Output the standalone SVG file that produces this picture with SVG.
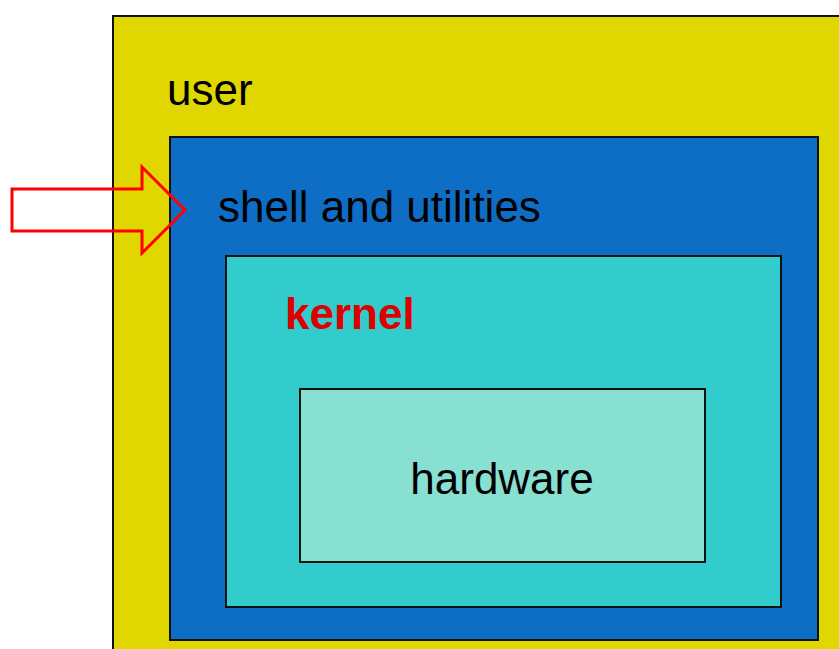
<svg xmlns="http://www.w3.org/2000/svg" width="839" height="649" viewBox="0 0 839 649">
<style>
.box{stroke:#111;stroke-width:2}
.t{font-family:"Liberation Sans",Arial,sans-serif;font-size:44px;fill:#000}
</style>
<rect width="839" height="649" fill="#fff"/>
<g id="user"><rect class="box" x="113" y="16" width="740" height="650" fill="#E1D700"/><text class="t" x="167" y="105">user</text></g>
<g id="shell"><rect class="box" x="170" y="137" width="648" height="503" fill="#0E6EC5"/><text class="t" x="218" y="222">shell and utilities</text></g>
<g id="kernel"><rect class="box" x="226" y="256" width="555" height="351" fill="#33CCCC"/><text class="t" x="285" y="329" font-weight="bold" style="fill:#DD0000">kernel</text></g>
<g id="hardware"><rect class="box" x="300" y="389" width="405" height="173" fill="#88E0D2"/><text class="t" x="502" y="494" text-anchor="middle">hardware</text></g>
<g id="connectors"><polygon points="12,189 142,189 142,167 185,210 142,253 142,231 12,231" fill="#fff" fill-opacity="0" stroke="#FF0000" stroke-width="3"/></g>
</svg>
